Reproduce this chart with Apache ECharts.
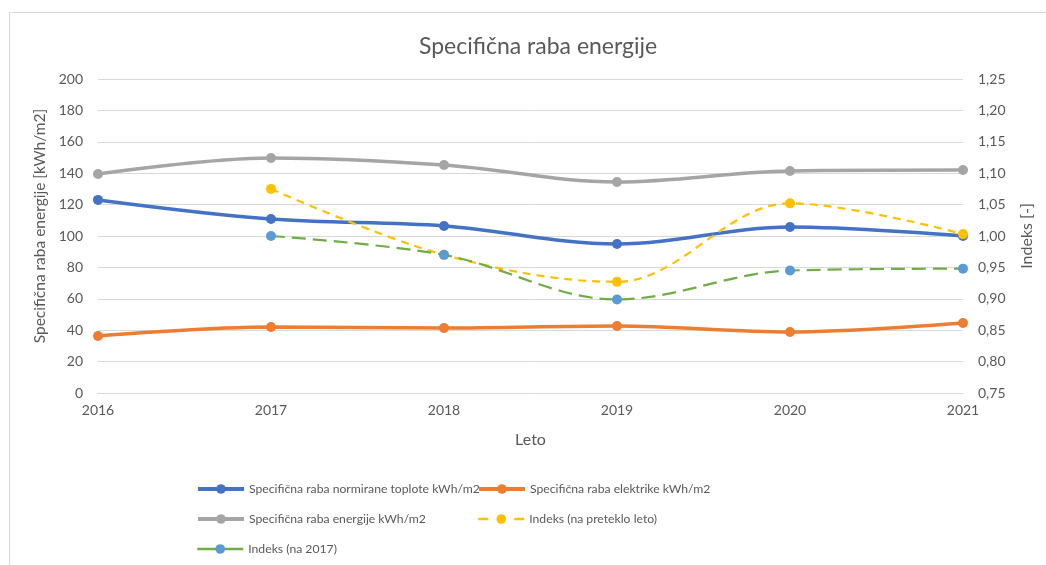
<!DOCTYPE html>
<html>
<head>
<meta charset="utf-8">
<script src="https://cdn.jsdelivr.net/npm/echarts@6/dist/echarts.min.js"></script>
<style>
  html, body { margin: 0; padding: 0; background: #fff; }
  #frame { position: absolute; left: 9px; top: 12px; width: 1100px; height: 600px; border: 1px solid #d9d9d9; }
  #chart { position: absolute; left: 0; top: 0; width: 1046px; height: 565px; }
</style>
</head>
<body>
<div id="frame"></div>
<div id="chart"></div>
<script>
// podatki
const years = ['2016', '2017', '2018', '2019', '2020', '2021'];
const toplota = [123, 110.8, 106.4, 94.9, 105.7, 100];
const elektrika = [36.3, 42, 41.4, 42.7, 38.9, 44.6];
const energija = [139.5, 149.7, 145.2, 134.4, 141.4, 142];
const indeksPreteklo = [null, 1.075, 0.97, 0.927, 1.052, 1.003];
const indeks2017 = [null, 1.0, 0.97, 0.899, 0.945, 0.948];
const leftTicks = { min: 0, max: 200, interval: 20 };
const rightTicks = { min: 0.75, max: 1.25, interval: 0.05 };

const font = 'Lato';
const grey = '#595959';

let chart = echarts.init(document.getElementById('chart'));

function legendItem(item, left, top) {
    return {
        data: [item],
        left: left,
        top: top,
        padding: 0,
        itemWidth: 46,
        itemHeight: 12,
        itemGap: 4,
        textStyle: { color: grey, fontSize: 12.2, fontFamily: font }
    };
}

let option = {
    animation: false,
    title: {
        text: 'Specifična raba energije',
        left: 414,
        top: 30,
        textStyle: { color: grey, fontSize: 23, fontWeight: 'normal', fontFamily: font }
    },
    legend: [
        legendItem({ name: 'Specifična raba normirane toplote kWh/m2', lineStyle: { width: 4 } }, 196, 483),
        legendItem({ name: 'Specifična raba elektrike kWh/m2', lineStyle: { width: 4 } }, 477, 483),
        legendItem({ name: 'Specifična raba energije kWh/m2', lineStyle: { width: 4 } }, 196, 513),
        legendItem({ name: 'Indeks (na preteklo leto)', lineStyle: { width: 2.5, type: [10, 26] } }, 477, 513),
        legendItem({ name: 'Indeks (na 2017)', lineStyle: { width: 2.5, type: 'solid' } }, 196, 543)
    ],
    grid: { left: 98, right: 83, top: 79, bottom: 172 },
    xAxis: {
        type: 'category',
        boundaryGap: false,
        data: years,
        name: 'Leto',
        nameLocation: 'middle',
        nameGap: 39,
        nameTextStyle: { color: grey, fontSize: 16, fontFamily: font },
        axisLine: { lineStyle: { color: '#d9d9d9' } },
        axisTick: { show: false },
        axisLabel: { color: grey, fontSize: 14, fontFamily: font, margin: 10 }
    },
    yAxis: [{
        type: 'value',
        min: leftTicks.min,
        max: leftTicks.max,
        interval: leftTicks.interval,
        name: 'Specifična raba energije [kWh/m2]',
        nameLocation: 'middle',
        nameGap: 47,
        nameTextStyle: { color: grey, fontSize: 15.5, fontFamily: font, padding: [0, 0, 0, 20] },
        axisLine: { show: false },
        axisTick: { show: false },
        axisLabel: { color: grey, fontSize: 14, fontFamily: font, margin: 15 },
        splitLine: { lineStyle: { color: '#d9d9d9' } }
    }, {
        type: 'value',
        min: rightTicks.min,
        max: rightTicks.max,
        interval: rightTicks.interval,
        name: 'Indeks [-]',
        nameLocation: 'middle',
        nameGap: 56,
        nameRotate: 90,
        nameTextStyle: { color: grey, fontSize: 16, fontFamily: font },
        axisLine: { show: false },
        axisTick: { show: false },
        axisLabel: {
            color: grey, fontSize: 14, fontFamily: font, margin: 15,
            formatter: function (v) { return v.toFixed(2).replace('.', ','); }
        },
        splitLine: { show: false }
    }],
    series: [{
        name: 'Specifična raba normirane toplote kWh/m2',
        type: 'line',
        smooth: 0.35,
        data: toplota,
        symbol: 'circle',
        symbolSize: 10,
        lineStyle: { width: 3.5, color: '#4472C4' },
        itemStyle: { color: '#4472C4' },
        z: 2
    }, {
        name: 'Specifična raba elektrike kWh/m2',
        type: 'line',
        smooth: 0.35,
        data: elektrika,
        symbol: 'circle',
        symbolSize: 10,
        lineStyle: { width: 3.5, color: '#ED7D31' },
        itemStyle: { color: '#ED7D31' },
        z: 2
    }, {
        name: 'Specifična raba energije kWh/m2',
        type: 'line',
        smooth: 0.35,
        data: energija,
        symbol: 'circle',
        symbolSize: 10,
        lineStyle: { width: 3.5, color: '#A5A5A5' },
        itemStyle: { color: '#A5A5A5' },
        z: 2
    }, {
        name: 'Indeks (na preteklo leto)',
        type: 'line',
        yAxisIndex: 1,
        smooth: 0.35,
        data: indeksPreteklo,
        symbol: 'circle',
        symbolSize: 10,
        lineStyle: { width: 2.2, color: '#FFC000', type: [8, 6] },
        itemStyle: { color: '#FFC000' },
        z: 3
    }, {
        name: 'Indeks (na 2017)',
        type: 'line',
        yAxisIndex: 1,
        smooth: 0.35,
        data: indeks2017,
        symbol: 'circle',
        symbolSize: 10,
        lineStyle: { width: 2.2, color: '#70AD47', type: [14, 7] },
        itemStyle: { color: '#5B9BD5' },
        z: 4
    }]
};

chart.setOption(option);
</script>
</body>
</html>
